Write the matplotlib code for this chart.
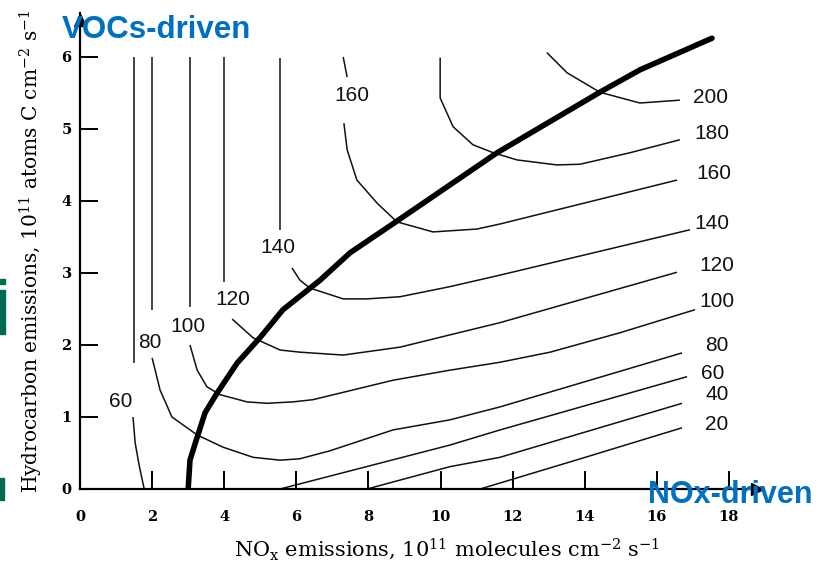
import matplotlib
matplotlib.use("Agg")
import matplotlib.pyplot as plt
from matplotlib.patches import Rectangle

plt.rcParams["mathtext.fontset"] = "dejavuserif"

# isopleth segments (NOx, VOC)
c60_top = [[1.50, 1.50], [6.0, 1.75]]
c60_low = [[1.47, 1.53, 1.64, 1.78], [1.0, 0.64, 0.33, 0.0]]
c60_right = [[5.55, 10.26, 11.65, 16.84], [0.0, 0.61, 0.82, 1.56]]
c40 = [[7.96, 10.26, 11.65, 16.70], [0.0, 0.31, 0.44, 1.19]]
c20 = [[11.1, 13.95, 16.70], [0.0, 0.43, 0.85]]

c80_top = [[2.0, 2.0], [6.0, 2.49]]
c80_low = [[2.0, 2.22, 2.55, 3.25, 3.97, 4.80, 5.55, 6.10, 6.93, 8.68, 10.26, 11.65, 16.70],
           [1.82, 1.375, 1.0, 0.75, 0.58, 0.44, 0.40, 0.42, 0.53, 0.82, 0.96, 1.14, 1.89]]

c100_top = [[3.05, 3.05], [6.0, 2.53]]
c100_low = [[3.05, 3.25, 3.52, 3.88, 4.63, 5.19, 5.91, 6.46, 8.68, 10.26, 11.65, 13.04, 14.98, 17.06],
            [2.0, 1.65, 1.42, 1.31, 1.21, 1.19, 1.21, 1.24, 1.51, 1.65, 1.76, 1.90, 2.17, 2.49]]

c120_top = [[4.0, 4.0], [6.0, 2.875]]
c120_low = [[4.22, 4.80, 5.55, 6.10, 7.30, 8.88, 10.26, 11.65, 16.56],
            [2.36, 2.10, 1.93, 1.90, 1.86, 1.97, 2.14, 2.31, 3.01]]

c140_top = [[5.55, 5.55], [5.99, 3.60]]
c140_low = [[5.88, 6.10, 6.38, 7.30, 7.96, 8.88, 10.26, 11.65, 16.92],
            [3.07, 2.90, 2.79, 2.64, 2.64, 2.67, 2.81, 2.97, 3.60]]

c160_top = [[7.30, 7.41], [6.0, 5.72]]
c160_low = [[7.32, 7.41, 7.68, 8.24, 8.79, 9.79, 11.01, 11.65, 16.56],
            [5.08, 4.71, 4.29, 3.97, 3.71, 3.57, 3.61, 3.68, 4.29]]

c180 = [[9.99, 9.99, 10.35, 10.90, 11.46, 12.12, 13.23, 13.87, 15.26, 16.64],
        [5.99, 5.43, 5.03, 4.78, 4.67, 4.57, 4.50, 4.51, 4.67, 4.85]]
c200 = [[12.95, 13.51, 14.42, 15.53, 16.64], [6.06, 5.78, 5.51, 5.36, 5.40]]

# ridge line between VOC- and NOx-limited regimes
ridge_x = [3.0, 3.05, 3.25, 3.47, 3.80, 4.36, 4.99, 5.63, 6.66, 7.49, 8.79, 11.57, 14.42, 15.53, 17.53]
ridge_y = [0.0, 0.40, 0.72, 1.06, 1.33, 1.75, 2.10, 2.49, 2.90, 3.28, 3.72, 4.67, 5.51, 5.82, 6.26]

# contour labels
right_labels = ["200", "180", "160", "140", "120", "100", "80", "60", "40", "20"]
right_lx = [17.48, 17.53, 17.59, 17.53, 17.67, 17.67, 17.67, 17.56, 17.67, 17.67]
right_ly = [5.44, 4.93, 4.375, 3.68, 3.10, 2.61, 1.99, 1.60, 1.31, 0.90]
left_labels = ["160", "140", "120", "100", "80", "60"]
left_lx = [7.55, 5.49, 4.24, 3.0, 1.94, 1.14]
left_ly = [5.46, 3.36, 2.625, 2.26, 2.04, 1.22]

xticks = [0, 2, 4, 6, 8, 10, 12, 14, 16, 18]
yticks = [0, 1, 2, 3, 4, 5, 6]

fig = plt.figure(figsize=(8.3, 5.68), dpi=100)
ax = fig.add_axes([0.0964, 0.1391, 0.8157, 0.838])

segs = [c60_top, c60_low, c60_right, c40, c20, c80_top, c80_low, c100_top, c100_low,
        c120_top, c120_low, c140_top, c140_low, c160_top, c160_low, c180, c200]
for s in segs:
    ax.plot(s[0], s[1], color="#111111", lw=1.1, solid_capstyle="butt")

ax.plot(ridge_x, ridge_y, color="black", lw=4.0, solid_capstyle="round")

lab_font = "Liberation Sans"
for t, x, y in zip(right_labels, right_lx, right_ly):
    ax.text(x, y, t, ha="center", va="center", fontsize=15, family=lab_font, color="#111111")
for t, x, y in zip(left_labels, left_lx, left_ly):
    ax.text(x, y, t, ha="center", va="center", fontsize=15, family=lab_font, color="#111111")

ax.set_xlim(0, 18.78)
ax.set_ylim(0, 6.61)
ax.set_xticks(xticks)
ax.set_yticks(yticks)
for sp in ["top", "right"]:
    ax.spines[sp].set_visible(False)
for sp in ["left", "bottom"]:
    ax.spines[sp].set_linewidth(1.6)
ax.tick_params(direction="in", length=13, width=1.4, labelsize=10.5)
ax.tick_params(axis="x", pad=15)
ax.tick_params(axis="y", pad=6)
for lab in ax.get_xticklabels() + ax.get_yticklabels():
    lab.set_family("DejaVu Serif")
    lab.set_weight("bold")

# axis arrow heads
ax.plot(1, 0, ">k", ms=9, transform=ax.transAxes, clip_on=False)
ax.plot(0, 0.985, "^k", ms=9, transform=ax.transAxes, clip_on=False)

ax.set_xlabel("NO$_\\mathrm{x}$ emissions, 10$^{11}$ molecules cm$^{-2}$ s$^{-1}$",
              family="DejaVu Serif", fontsize=15)
ax.set_ylabel("Hydrocarbon emissions, 10$^{11}$ atoms C cm$^{-2}$ s$^{-1}$",
              family="DejaVu Serif", fontsize=14.5)
ax.xaxis.set_label_coords(0.542, -0.100)
ax.yaxis.set_label_coords(-0.052, 0.50)

fig.text(62 / 830, 1 - 30 / 568, "VOCs-driven", family="Liberation Sans", weight="bold",
         fontsize=22.5, color="#0070C0", ha="left", va="center")
fig.text(648 / 830, 1 - 495 / 568, "NOx-driven", family="Liberation Sans", weight="bold",
         fontsize=22, color="#0070C0", ha="left", va="center")

# bits of slide text cut off at the left edge
fig.patches.append(Rectangle((0, 1 - 284 / 568), 5 / 830, 5 / 568, transform=fig.transFigure,
                             color="#006A55"))
fig.patches.append(Rectangle((0, 1 - 334 / 568), 5 / 830, 44 / 568, transform=fig.transFigure,
                             color="#006A55"))
fig.patches.append(Rectangle((0, 1 - 500 / 568), 4 / 830, 22 / 568, transform=fig.transFigure,
                             color="#006A55"))

fig.savefig("out.png", dpi=100)
